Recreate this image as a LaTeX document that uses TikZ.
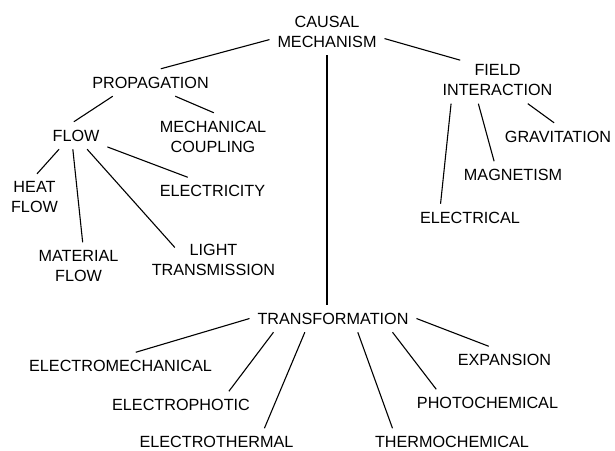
\documentclass[tikz,border=0pt]{standalone}
\usepackage{fontspec}
\setmainfont{Liberation Sans}
\usepackage{tikz}

\begin{document}
\begin{tikzpicture}[x=1pt, y=-1pt,
    term/.style={align=center, inner sep=3pt, outer sep=5pt,
                 font=\fontsize{16.2}{20}\selectfont},
    link/.style={line width=1.1pt}
]
\useasboundingbox (0,0) rectangle (615,450);

% top and the three branches
\node[term] (cm)    at (327,31.5)  {CAUSAL\\MECHANISM};
\node[term] (prop)  at (150.5,82.5) {PROPAGATION};
\node[term] (field) at (497.5,80)  {FIELD\\INTERACTION};
\node[term] (trans) at (333,318.5) {TRANSFORMATION};

% propagation
\node[term] (flow)     at (76,135.5)   {FLOW};
\node[term] (mech)     at (213,136.5)  {MECHANICAL\\COUPLING};
\node[term] (heat)     at (34.5,197.5) {HEAT\\FLOW};
\node[term] (material) at (78.5,266)   {MATERIAL\\FLOW};
\node[term] (light)    at (213.5,260)  {LIGHT\\TRANSMISSION};
\node[term] (elec)     at (212.5,191)  {ELECTRICITY};

% field interaction
\node[term] (electrical) at (470,217.5) {ELECTRICAL};
\node[term] (magnet)     at (513,175)   {MAGNETISM};
\node[term] (grav)       at (558,136.5) {GRAVITATION};

% transformation
\node[term] (emech)  at (120.5,366) {ELECTROMECHANICAL};
\node[term] (ephot)  at (181,405)   {ELECTROPHOTIC};
\node[term] (etherm) at (216.5,442) {ELECTROTHERMAL};
\node[term] (tchem)  at (452,442)   {THERMOCHEMICAL};
\node[term] (pchem)  at (487.5,403) {PHOTOCHEMICAL};
\node[term] (expan)  at (504.5,360) {EXPANSION};

\draw[link] (cm.188) -- (prop.53);
\draw[link, shorten >=-14pt] (cm.353) -- (field.155);
\draw[link] (cm.south) -- (cm.south |- trans.north);

\draw[link] (prop.200) -- (flow.99);
\draw[link] (prop.331) -- (mech.88);
\draw[link] (flow.219) -- (heat.84);
\draw[link] (flow.257) -- (material.80);
\draw[link, shorten >=-15pt] (flow.309) -- (light.154);
\draw[link] (flow.340) -- (elec.151);

\draw[link] (field.207) -- (electrical.155);
\draw[link] (field.231) -- (magnet.144);
\draw[link] (field.322) -- (grav.106);

\draw[link] (trans.180) -- (emech.42);
\draw[link] (trans.193) -- (ephot.16);
\draw[link] (trans.206) -- (etherm.16);
\draw[link] (trans.331) -- (tchem.167);
\draw[link] (trans.347) -- (pchem.165);
\draw[link] (trans.0)   -- (expan.139);
\end{tikzpicture}
\end{document}
